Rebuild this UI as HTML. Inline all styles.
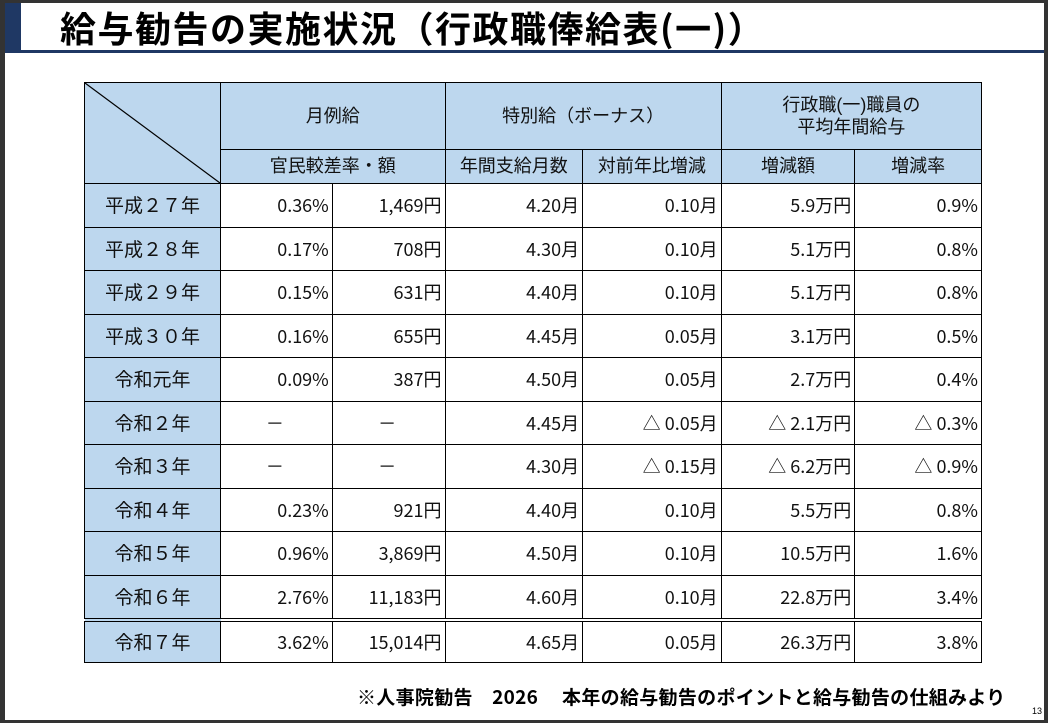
<!DOCTYPE html>
<html><head><meta charset="utf-8"><style>
html,body{margin:0;padding:0;}
body{width:1048px;height:723px;position:relative;background:#fff;overflow:hidden;font-family:"Liberation Sans","Noto Sans CJK JP",sans-serif;}
.frame-t{position:absolute;left:0;top:0;width:1048px;height:3px;background:#333;}
.frame-l{position:absolute;left:0;top:0;width:5px;height:723px;background:#333;}
.frame-r{position:absolute;right:0;top:0;width:4px;height:723px;background:#333;}
.frame-b{position:absolute;left:0;bottom:0;width:1048px;height:3px;background:#333;}
.acc{position:absolute;left:5px;top:3px;width:16px;height:50px;background:#1f3864;}
.tline{position:absolute;left:21px;top:50px;width:1023px;height:3px;background:#1f3864;}
.title{position:absolute;left:60px;top:3px;font-size:36px;font-weight:bold;line-height:48px;color:#000;letter-spacing:1.5px;white-space:nowrap;font-family:"Noto Sans CJK JP",sans-serif;}
table{position:absolute;left:84px;top:82px;border-collapse:collapse;width:898px;}
td{border:1.5px solid #000;font-size:18px;padding:0;color:#111;line-height:20px;vertical-align:middle;}
.h{background:#bdd7ee;text-align:center;}
.y{background:#bdd7ee;text-align:center;font-size:19px;}
.y span{position:relative;top:2px;}
.n{text-align:right;padding-right:3px;font-family:"Noto Sans CJK JP",sans-serif;font-size:18px;}
tr.r td{height:42.5px;}
tr.last td{border-top:4px double #000;height:40px;}
.src{position:absolute;left:357px;top:684px;font-size:19px;font-weight:bold;white-space:nowrap;font-family:"Noto Sans CJK JP",sans-serif;line-height:26px;letter-spacing:0.3px;}
.pg{position:absolute;left:1032px;top:706px;font-size:9px;}
</style></head><body>
<div class="frame-t"></div><div class="frame-l"></div><div class="frame-r"></div><div class="frame-b"></div>
<div class="acc"></div><div class="tline"></div>
<div class="title">給与勧告の実施状況（行政職俸給表(一)）</div>
<table>
<colgroup><col style="width:135px"><col style="width:112px"><col style="width:113px"><col style="width:138px"><col style="width:139px"><col style="width:134px"><col style="width:127px"></colgroup>
<tr style="height:66px"><td class="h" rowspan="2" style="padding:0;position:relative"><svg width="135" height="100" style="display:block"><line x1="0" y1="0" x2="135" y2="100" stroke="#000" stroke-width="1.2"/></svg></td>
<td class="h" colspan="2">月例給</td><td class="h" colspan="2">特別給（ボーナス）</td><td class="h" colspan="2" style="line-height:22px">行政職(一)職員の<br>平均年間給与</td></tr>
<tr style="height:34px"><td class="h" colspan="2">官民較差率・額</td><td class="h">年間支給月数</td><td class="h">対前年比増減</td><td class="h">増減額</td><td class="h">増減率</td></tr>
<tr class="r"><td class="y"><span>平成２７年</span></td><td class="n">0.36%</td><td class="n">1,469円</td><td class="n">4.20月</td><td class="n">0.10月</td><td class="n">5.9万円</td><td class="n">0.9%</td></tr>
<tr class="r"><td class="y"><span>平成２８年</span></td><td class="n">0.17%</td><td class="n">708円</td><td class="n">4.30月</td><td class="n">0.10月</td><td class="n">5.1万円</td><td class="n">0.8%</td></tr>
<tr class="r"><td class="y"><span>平成２９年</span></td><td class="n">0.15%</td><td class="n">631円</td><td class="n">4.40月</td><td class="n">0.10月</td><td class="n">5.1万円</td><td class="n">0.8%</td></tr>
<tr class="r"><td class="y"><span>平成３０年</span></td><td class="n">0.16%</td><td class="n">655円</td><td class="n">4.45月</td><td class="n">0.05月</td><td class="n">3.1万円</td><td class="n">0.5%</td></tr>
<tr class="r"><td class="y"><span>令和元年</span></td><td class="n">0.09%</td><td class="n">387円</td><td class="n">4.50月</td><td class="n">0.05月</td><td class="n">2.7万円</td><td class="n">0.4%</td></tr>
<tr class="r"><td class="y"><span>令和２年</span></td><td class="n" style="text-align:center">－</td><td class="n" style="text-align:center">－</td><td class="n">4.45月</td><td class="n">△ 0.05月</td><td class="n">△ 2.1万円</td><td class="n">△ 0.3%</td></tr>
<tr class="r"><td class="y"><span>令和３年</span></td><td class="n" style="text-align:center">－</td><td class="n" style="text-align:center">－</td><td class="n">4.30月</td><td class="n">△ 0.15月</td><td class="n">△ 6.2万円</td><td class="n">△ 0.9%</td></tr>
<tr class="r"><td class="y"><span>令和４年</span></td><td class="n">0.23%</td><td class="n">921円</td><td class="n">4.40月</td><td class="n">0.10月</td><td class="n">5.5万円</td><td class="n">0.8%</td></tr>
<tr class="r"><td class="y"><span>令和５年</span></td><td class="n">0.96%</td><td class="n">3,869円</td><td class="n">4.50月</td><td class="n">0.10月</td><td class="n">10.5万円</td><td class="n">1.6%</td></tr>
<tr class="r"><td class="y"><span>令和６年</span></td><td class="n">2.76%</td><td class="n">11,183円</td><td class="n">4.60月</td><td class="n">0.10月</td><td class="n">22.8万円</td><td class="n">3.4%</td></tr>
<tr class="r last"><td class="y"><span>令和７年</span></td><td class="n">3.62%</td><td class="n">15,014円</td><td class="n">4.65月</td><td class="n">0.05月</td><td class="n">26.3万円</td><td class="n">3.8%</td></tr>
</table>
<div class="src">※人事院勧告　2026　 本年の給与勧告のポイントと給与勧告の仕組みより</div>
<div class="pg">13</div>
</body></html>
